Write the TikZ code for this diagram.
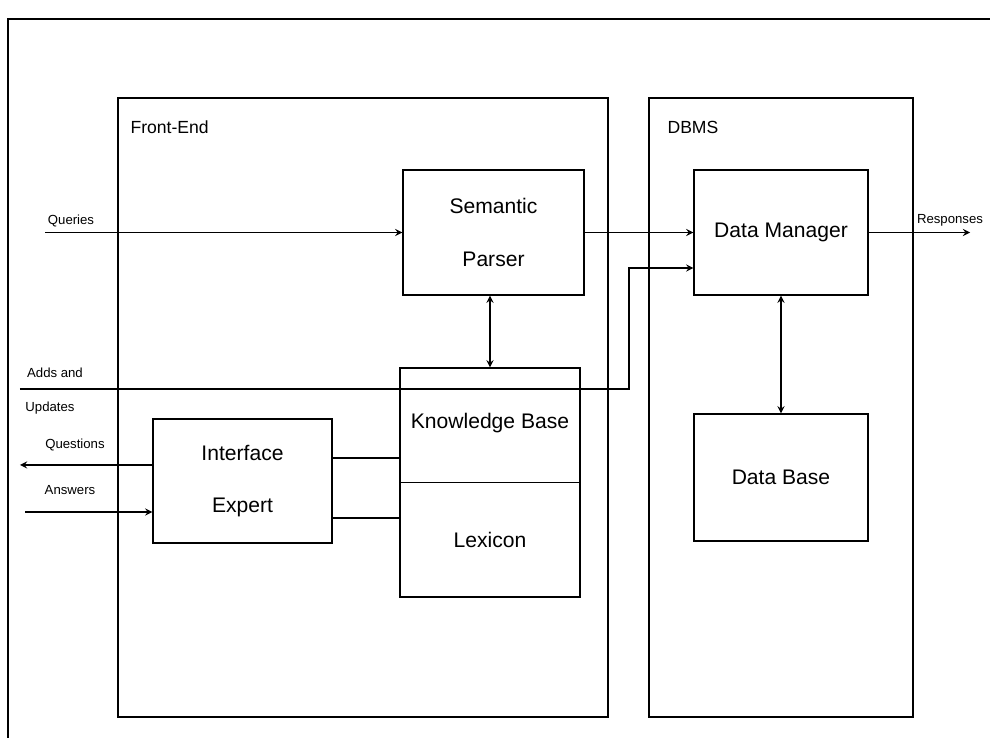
\documentclass[tikz,border=0pt]{standalone}
\usepackage{fontspec}
\setmainfont{Liberation Sans}
\begin{document}
\begin{tikzpicture}[>=stealth, line width=0.8pt,
    frame/.style={draw, minimum height=12.38cm, inner sep=0pt},
    box/.style={draw, minimum height=2.5cm, inner sep=0pt, align=center,
      font=\fontsize{12}{30}\selectfont},
    boxtext/.style={font=\fontsize{12}{14}\selectfont},
    title/.style={anchor=west, font=\fontsize{10}{12}\selectfont},
    tag/.style={font=\fontsize{7.5}{9}\selectfont}]
    \useasboundingbox (0,0) rectangle (19.88,-14.76);

    % outer frame
    \draw (0.16,-14.76) -- (0.16,-0.38) -- (19.8,-0.38);

    \node[frame, minimum width=9.8cm] (fe) at (7.26,-8.15) {};
    \node[frame, minimum width=5.28cm] (dbms) at (15.62,-8.15) {};
    \node[title] (felabel) at (2.48,-2.54) {Front-End};
    \node[title] (dbmslabel) at (13.22,-2.54) {DBMS};

    \node[box, minimum width=3.62cm] (sp) at (9.87,-4.65) {Semantic\\Parser};
    \node[box, minimum width=3.6cm, minimum height=4.58cm] (kb) at (9.8,-9.65) {};
    \node[boxtext] (kbname) at (9.8,-8.46) {Knowledge Base};
    \node[boxtext] (lex) at (9.8,-10.8) {Lexicon};
    \node[box, minimum width=3.58cm, minimum height=2.48cm] (ie) at (4.85,-9.62) {Interface\\Expert};
    \node[box, minimum width=3.48cm] (dm) at (15.62,-4.65) {Data Manager};
    \node[box, minimum width=3.48cm, minimum height=2.54cm] (db) at (15.62,-9.55) {Data Base};

    \draw (kb.west) -- (kb.east);
    \draw[<->] (kb.north |- sp.south) -- (kb.north);
    \draw[<->] (dm.south) -- (db.north);

    % queries and responses
    \coordinate (qin) at (0.9,-4.65);
    \draw[->] (qin) -- (sp.west);
    \node[tag] (qlabel) at (1.42,-4.42) {Queries};
    \draw[->] (sp.east) -- (dm.west);
    \coordinate (resp) at (19.4,-4.65);
    \draw[->] (dm.east) -- (resp);
    \node[tag] (resplabel) at (19.0,-4.4) {Responses};

    % adds and updates
    \coordinate (adds) at (0.4,-7.78);
    \coordinate (turn) at (12.58,-5.36);
    \draw[->] (adds) -| (turn) -- (turn -| dm.west);
    \node[tag] (addlabel) at (1.1,-7.46) {Adds and};
    \node[tag] (updlabel) at (1.0,-8.16) {Updates};

    % questions and answers
    \coordinate (qout) at (0.4,-9.3);
    \draw[->] (qout -| ie.west) -- (qout);
    \node[tag] (queslabel) at (1.5,-8.9) {Questions};
    \coordinate (ans) at (0.5,-10.24);
    \draw[->] (ans) -- (ans -| ie.west);
    \node[tag] (anslabel) at (1.4,-9.8) {Answers};

    \coordinate (ie1) at ([yshift=0.46cm]ie.east);
    \coordinate (ie2) at ([yshift=-0.74cm]ie.east);
    \draw (ie1) -- (ie1 -| kb.west);
    \draw (ie2) -- (ie2 -| kb.west);
\end{tikzpicture}
\end{document}
